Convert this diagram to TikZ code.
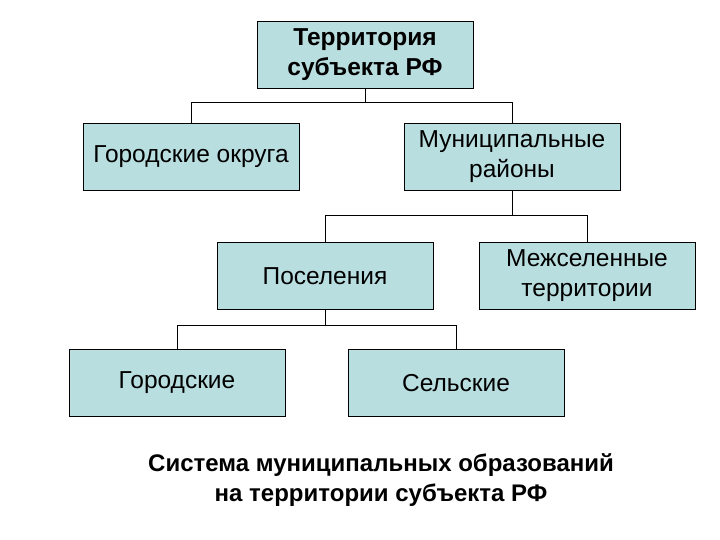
\documentclass[tikz,border=0pt]{standalone}
\usepackage{fontspec}
\setmainfont{Liberation Sans}
\definecolor{boxfill}{HTML}{B9DEE0}
\begin{document}
\begin{tikzpicture}[x=1pt,y=-1pt,
  box/.style={draw=black,fill=boxfill,line width=0.8pt,minimum width=216pt,minimum height=67pt,align=center,font=\fontsize{24.5}{30}\selectfont,inner sep=0pt},
  conn/.style={draw=black,line width=0.8pt}]
\useasboundingbox (0,0) rectangle (720,540);
\node[box,font=\fontsize{24.5}{30}\selectfont\bfseries] (top) at (365,55) {Территория\\субъекта РФ};
\node[box] (go) at (191,157) {Городские округа};
\node[box] (mr) at (512,157) {Муниципальные\\районы};
\node[box] (pos) at (325,276) {Поселения};
\node[box] (mt) at (587,276) {Межселенные\\территории};
\node[box] (gor) at (177,383) {Городские};
\node[box] (sel) at (456,383) {Сельские};
\node[font=\fontsize{24}{30}\selectfont\bfseries,align=center] (cap) at (381,480) {Система муниципальных образований\\на территории субъекта РФ};
\draw[conn] (top.south) -- ++(0,14) -| (go.north);
\draw[conn] (top.south) -- ++(0,14) -| (mr.north);
\draw[conn] (mr.south) -- ++(0,25) -| (pos.north);
\draw[conn] (mr.south) -- ++(0,25) -| (mt.north);
\draw[conn] (pos.south) -- ++(0,15) -| (gor.north);
\draw[conn] (pos.south) -- ++(0,15) -| (sel.north);
\end{tikzpicture}
\end{document}
